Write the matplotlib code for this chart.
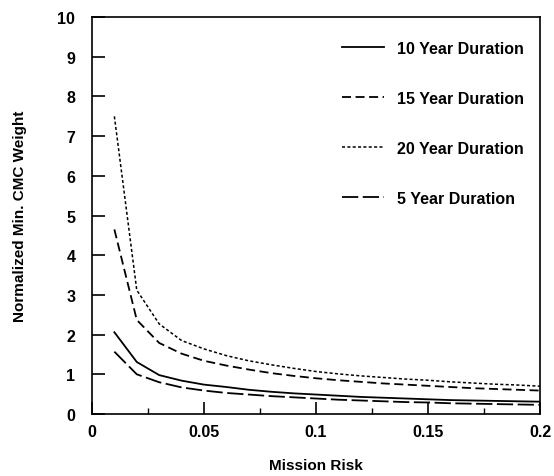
import matplotlib.pyplot as plt
from matplotlib.ticker import MultipleLocator

plt.rcParams['font.family'] = ['Liberation Sans', 'DejaVu Sans']
plt.rcParams['font.weight'] = 'bold'
plt.rcParams['axes.labelweight'] = 'bold'

risk = [0.01, 0.02, 0.03, 0.04, 0.05, 0.06, 0.07, 0.08, 0.09, 0.10,
        0.11, 0.12, 0.13, 0.14, 0.15, 0.16, 0.17, 0.18, 0.19, 0.20]

w10 = [2.06, 1.31, 0.98, 0.84, 0.74, 0.68, 0.61, 0.56, 0.52, 0.49,
       0.46, 0.43, 0.41, 0.39, 0.37, 0.35, 0.34, 0.33, 0.32, 0.31]
w15 = [4.65, 2.37, 1.79, 1.52, 1.34, 1.22, 1.12, 1.03, 0.96, 0.90,
       0.85, 0.81, 0.77, 0.74, 0.71, 0.68, 0.65, 0.63, 0.61, 0.59]
w20 = [7.5, 3.12, 2.27, 1.85, 1.64, 1.47, 1.34, 1.24, 1.15, 1.07,
       1.01, 0.96, 0.92, 0.88, 0.85, 0.81, 0.78, 0.75, 0.73, 0.70]
w5 = [1.57, 1.0, 0.80, 0.67, 0.59, 0.53, 0.49, 0.45, 0.42, 0.39,
      0.36, 0.34, 0.32, 0.30, 0.29, 0.27, 0.26, 0.25, 0.24, 0.23]

xticks = [0, 0.05, 0.1, 0.15, 0.2]
xlabels = ['0', '0.05', '0.1', '0.15', '0.2']

fig = plt.figure(figsize=(5.54, 4.77), dpi=100)
ax = fig.add_axes([0.166, 0.130, 0.809, 0.832])

ax.plot(risk, w10, color='black', lw=1.3, ls='-', label='10 Year Duration')
ax.plot(risk, w15, color='black', lw=1.3, ls=(0, (5, 2.5)), label='15 Year Duration')
ax.plot(risk, w20, color='black', lw=1.1, ls=(0, (2, 1.5)), label='20 Year Duration')
ax.plot(risk, w5, color='black', lw=1.3, ls=(0, (9, 2.5)), label='5 Year Duration')

ax.set_xlim(0, 0.2)
ax.set_ylim(0, 10)
ax.set_xticks(xticks)
ax.set_xticklabels(xlabels)
ax.set_yticks(range(0, 11))
ax.xaxis.set_minor_locator(MultipleLocator(0.025))
ax.tick_params(which='major', direction='in', length=9, width=1.2,
               labelsize=11.5, top=False, right=False)
ax.tick_params(axis='x', which='major', pad=7)
ax.tick_params(axis='y', which='major', pad=12)
ax.tick_params(which='minor', direction='in', length=4, width=1.0, top=False)
for s in ax.spines.values():
    s.set_linewidth(1.2)

ax.set_xlabel('Mission Risk', fontsize=11, labelpad=14)
ax.set_ylabel('Normalized Min. CMC Weight', fontsize=11, labelpad=22)

ax.legend(loc='upper left', frameon=False, fontsize=11.5, handlelength=2.6,
          labelspacing=2.2, handletextpad=0.85, borderpad=0, borderaxespad=0,
          bbox_to_anchor=(0.558, 0.941))

fig.savefig('out.png', dpi=100)
